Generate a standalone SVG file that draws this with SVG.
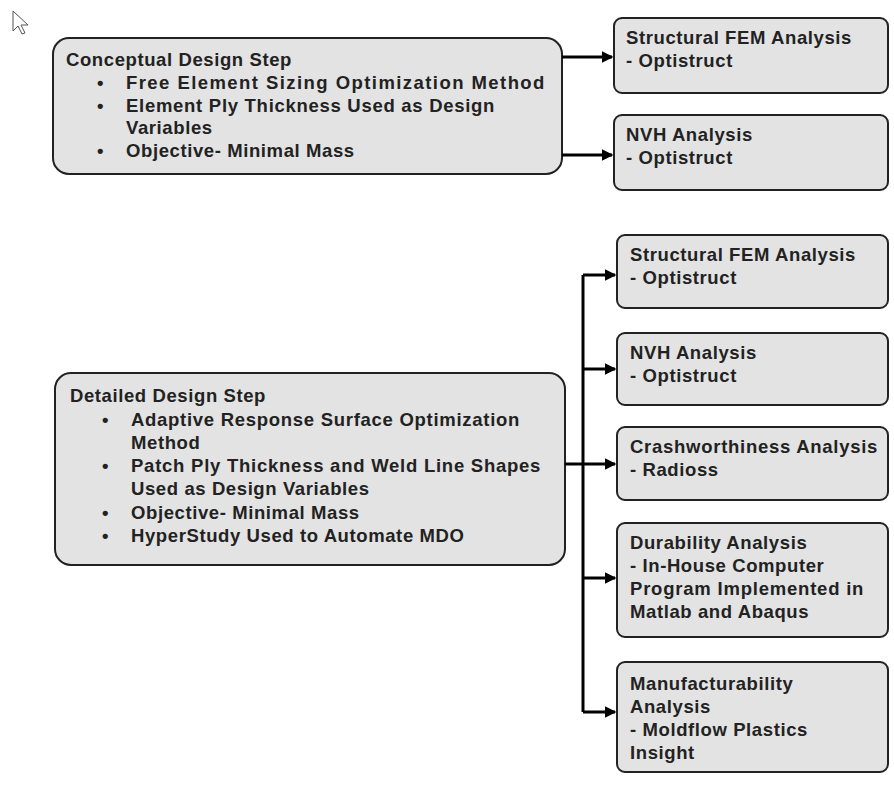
<svg xmlns="http://www.w3.org/2000/svg" width="894" height="806" viewBox="0 0 894 806">
<style>
.b{fill:#e3e3e3;stroke:#222;stroke-width:2}
text{font-family:"Liberation Sans",Arial,sans-serif;font-weight:bold;font-size:18.5px;letter-spacing:0.6px;fill:#222}
.c{stroke:#000;stroke-width:3;fill:none}
</style>
<defs><marker id="a" markerWidth="4" markerHeight="4" refX="3.5" refY="2" orient="auto"><path d="M0,0L4,2L0,4z" fill="#000"/></marker></defs>
<rect width="894" height="806" fill="#fff"/>
<path d="M13,11L13,31L18,26L22,34L25,33L21,25L28,25Z" fill="#fff" stroke="#555" stroke-width="1"/>
<g id="n1"><rect class="b" x="53" y="38" width="509" height="136" rx="16"/>
<text x="66" y="66">Conceptual Design Step</text>
<text x="97" y="89">•</text><text x="126" y="89" textLength="419">Free Element Sizing Optimization Method</text>
<text x="97" y="112">•</text><text x="126" y="112" textLength="369">Element Ply Thickness Used as Design</text>
<text x="126" y="134">Variables</text>
<text x="97" y="157">•</text><text x="126" y="157">Objective- Minimal Mass</text></g>
<g id="n2"><rect class="b" x="614" y="18" width="274" height="75" rx="8"/><text x="626" y="44">Structural FEM Analysis</text><text x="626" y="67">- Optistruct</text></g>
<g id="n3"><rect class="b" x="614" y="115" width="274" height="75" rx="8"/><text x="626" y="141">NVH Analysis</text><text x="626" y="164">- Optistruct</text></g>
<g id="n4"><rect class="b" x="55" y="373" width="510" height="192" rx="16"/>
<text x="70" y="402">Detailed Design Step</text>
<text x="102" y="426">•</text><text x="131" y="426" textLength="389">Adaptive Response Surface Optimization</text>
<text x="131" y="449">Method</text>
<text x="102" y="472">•</text><text x="131" y="472" textLength="410">Patch Ply Thickness and Weld Line Shapes</text>
<text x="131" y="495">Used as Design Variables</text>
<text x="102" y="519">•</text><text x="131" y="519">Objective- Minimal Mass</text>
<text x="102" y="542">•</text><text x="131" y="542">HyperStudy Used to Automate MDO</text></g>
<g id="n5"><rect class="b" x="617" y="235" width="271" height="73" rx="8"/><text x="630" y="261">Structural FEM Analysis</text><text x="630" y="284">- Optistruct</text></g>
<g id="n6"><rect class="b" x="617" y="333" width="271" height="72" rx="8"/><text x="630" y="359">NVH Analysis</text><text x="630" y="382">- Optistruct</text></g>
<g id="n7"><rect class="b" x="617" y="427" width="271" height="73" rx="8"/><text x="630" y="453" textLength="248">Crashworthiness Analysis</text><text x="630" y="476">- Radioss</text></g>
<g id="n8"><rect class="b" x="617" y="523" width="271" height="114" rx="8"/><text x="630" y="549">Durability Analysis</text><text x="630" y="572">- In-House Computer</text><text x="630" y="595" textLength="234">Program Implemented in</text><text x="630" y="618">Matlab and Abaqus</text></g>
<g id="n9"><rect class="b" x="617" y="662" width="271" height="110" rx="8"/><text x="630" y="690">Manufacturability</text><text x="630" y="713">Analysis</text><text x="630" y="736">- Moldflow Plastics</text><text x="630" y="759">Insight</text></g>
<g id="conn">
<path class="c" d="M562,57H612" marker-end="url(#a)"/>
<path class="c" d="M562,155H612" marker-end="url(#a)"/>
<path class="c" d="M583,275V712"/>
<path class="c" d="M565,464H615" marker-end="url(#a)"/>
<path class="c" d="M583,275H615" marker-end="url(#a)"/>
<path class="c" d="M583,369H615" marker-end="url(#a)"/>
<path class="c" d="M583,578H615" marker-end="url(#a)"/>
<path class="c" d="M583,712H615" marker-end="url(#a)"/>
</g>
</svg>
